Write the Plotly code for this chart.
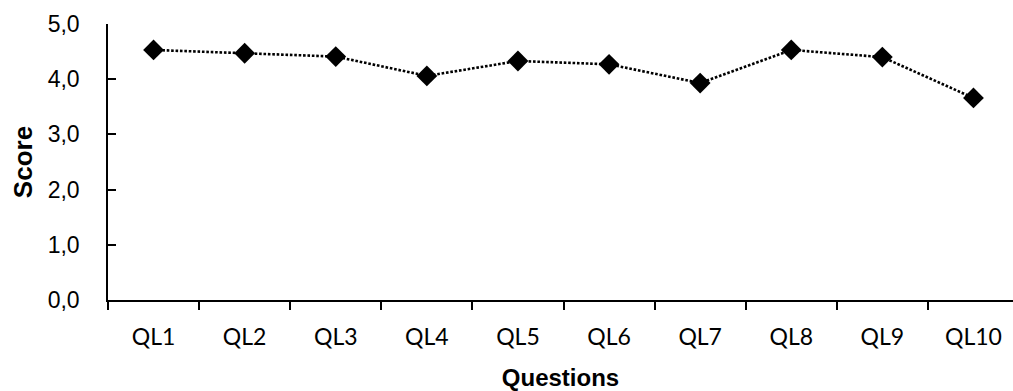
import plotly.graph_objects as go

questions = ["QL1", "QL2", "QL3", "QL4", "QL5", "QL6", "QL7", "QL8", "QL9", "QL10"]
scores = [4.53, 4.47, 4.41, 4.06, 4.33, 4.27, 3.93, 4.53, 4.40, 3.66]
y_ticks = [0, 1, 2, 3, 4, 5]

fig = go.Figure()
fig.add_trace(go.Scatter(
    x=questions, y=scores, mode="lines+markers",
    line=dict(color="black", width=2.6, dash="2.6px,1.8px"),
    marker=dict(symbol="diamond", size=16, color="black"),
    cliponaxis=False,
))

fig.update_layout(
    width=1013, height=391,
    margin=dict(l=108, r=0, t=24, b=91),
    paper_bgcolor="white", plot_bgcolor="white",
    separators=",.",
    showlegend=False,
)
fig.update_xaxes(
    type="category", range=[-0.5, 9.434],
    showline=True, linecolor="black", linewidth=1.5,
    ticks="outside", ticklen=8, tickwidth=1.5, tickcolor="black",
    tickson="boundaries", showgrid=False,
    tickfont=dict(family="Lato", size=23, color="black"),
    ticklabelstandoff=16,
    title=dict(text="<b>Questions</b>", font=dict(family="Liberation Sans", size=24, color="black"), standoff=20),
)
fig.update_yaxes(
    range=[0, 5], tickvals=y_ticks, tickformat=".1f",
    showline=True, linecolor="black", linewidth=1.5,
    ticks="inside", ticklen=8, tickwidth=1.5, tickcolor="black",
    showgrid=False, zeroline=False,
    tickfont=dict(family="Liberation Sans", size=23, color="black"),
    ticklabelstandoff=22,
    title=dict(text="<b>Score</b>", font=dict(family="Liberation Sans", size=26, color="black"), standoff=8),
)

fig.write_html("out.html", config={"displayModeBar": False},
               post_script="document.body.style.margin='0';")
